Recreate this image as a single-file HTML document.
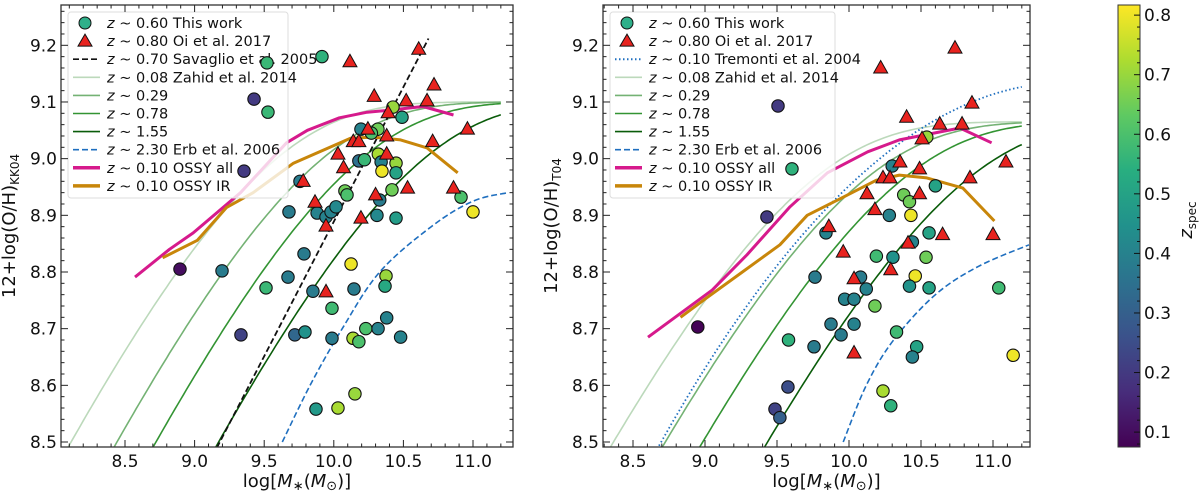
<!DOCTYPE html>
<html><head><meta charset="utf-8"><style>
html,body{margin:0;padding:0;background:#fff;overflow:hidden;width:1200px;height:499px;}
svg{display:block;font-family:"DejaVu Sans","Liberation Sans",sans-serif;}
</style></head><body>
<svg id="fig" width="1200" height="499" viewBox="0 0 1200 499" xmlns="http://www.w3.org/2000/svg">
<defs>
<clipPath id="clipL"><rect x="61" y="5" width="452" height="442"/></clipPath>
<clipPath id="clipR"><rect x="603" y="5" width="427" height="442"/></clipPath>
<linearGradient id="vir" x1="0" y1="1" x2="0" y2="0">
<stop offset="0" stop-color="#440154"/><stop offset="0.125" stop-color="#472d7b"/><stop offset="0.25" stop-color="#3b528b"/><stop offset="0.375" stop-color="#2c728e"/><stop offset="0.5" stop-color="#21918c"/><stop offset="0.625" stop-color="#28ae80"/><stop offset="0.75" stop-color="#5ec962"/><stop offset="0.875" stop-color="#addc30"/><stop offset="1" stop-color="#fde725"/>
</linearGradient>
</defs>
<g id="left"></g>
<g id="right"></g>
<g id="cbar"></g>
</svg>
<script>
// ---- data: left panel (KK04) ----
const leftCircX = [9.52,9.915,9.427,9.527,9.355,10.195,10.317,10.27,10.425,10.49,10.18,10.22,10.32,10.34,10.447,10.346,10.447,9.757,10.08,10.095,10.418,10.914,11.0,9.678,9.88,9.944,9.98,10.016,10.31,10.33,10.447,9.786,8.895,9.197,9.513,9.671,9.85,10.124,10.145,10.375,10.368,9.987,9.333,9.72,9.793,9.987,10.138,10.18,10.23,10.318,10.38,10.48,9.872,10.03,10.152];
const leftCircY = [9.169,9.18,9.105,9.082,8.978,9.052,9.052,9.045,9.091,9.073,8.996,8.998,9.008,8.994,8.992,8.978,8.975,8.96,8.943,8.936,8.945,8.932,8.906,8.906,8.904,8.897,8.906,8.915,8.90,8.927,8.895,8.832,8.805,8.802,8.772,8.791,8.766,8.814,8.77,8.793,8.775,8.736,8.689,8.689,8.694,8.683,8.683,8.677,8.70,8.70,8.719,8.685,8.558,8.56,8.585];
const leftCircZ = [0.57,0.55,0.2,0.57,0.2,0.4,0.65,0.6,0.7,0.5,0.35,0.57,0.72,0.4,0.7,0.8,0.5,0.38,0.65,0.6,0.65,0.6,0.8,0.38,0.4,0.4,0.4,0.42,0.42,0.38,0.48,0.38,0.1,0.38,0.57,0.38,0.38,0.8,0.38,0.7,0.52,0.58,0.22,0.32,0.45,0.38,0.72,0.6,0.6,0.4,0.4,0.4,0.47,0.72,0.7];
const leftTriX = [10.116,10.61,10.29,10.72,10.52,10.67,10.39,10.245,10.96,10.14,10.18,10.38,10.71,10.03,10.38,10.07,9.78,10.30,10.53,10.86,9.865,10.195,9.944,9.944];
const leftTriY = [9.171,9.193,9.11,9.13,9.102,9.102,9.081,9.052,9.052,9.03,9.03,9.04,9.03,9.008,9.008,8.984,8.96,8.936,8.948,8.948,8.923,8.895,8.881,8.765];
const leftSavX = [9.16,10.68]; const leftSavY = [8.49,9.212];
const leftErbX = [9.63,9.83,10.06,10.33,10.7,11.0,11.25]; const leftErbY = [8.5,8.6,8.70,8.80,8.88,8.925,8.94];
const leftAllX = [8.572,8.82,8.99,9.33,9.66,9.81,10.04,10.24,10.38,10.64,10.86];
const leftAllY = [8.791,8.84,8.869,8.94,9.028,9.05,9.072,9.082,9.085,9.092,9.077];
const leftIRX = [8.77,9.02,9.23,9.42,9.71,10.12,10.28,10.48,10.67,10.89];
const leftIRY = [8.825,8.856,8.914,8.94,8.992,9.036,9.038,9.033,9.019,8.975];
const leftZ0 = 9.10; const leftM0 = [9.19,9.52,9.80,10.25];
// ---- data: right panel (T04) ----
const rightCircX = [9.507,9.604,9.43,10.30,10.54,10.60,10.38,10.42,10.43,10.28,9.84,10.556,10.44,10.19,10.305,10.535,9.764,10.08,10.46,10.42,10.556,11.04,10.12,9.97,10.035,10.18,9.875,10.035,9.945,10.33,8.95,9.58,9.757,10.47,10.44,11.14,9.576,10.236,10.29,9.486,9.52];
const rightCircY = [9.093,8.982,8.897,8.987,9.038,8.952,8.936,8.924,8.90,8.90,8.869,8.869,8.853,8.828,8.826,8.826,8.791,8.791,8.793,8.775,8.772,8.772,8.77,8.752,8.752,8.74,8.708,8.708,8.689,8.694,8.703,8.68,8.668,8.668,8.65,8.653,8.597,8.59,8.564,8.558,8.543];
const rightCircZ = [0.2,0.55,0.2,0.4,0.7,0.5,0.65,0.65,0.8,0.4,0.4,0.5,0.4,0.58,0.45,0.65,0.38,0.38,0.8,0.45,0.5,0.58,0.4,0.4,0.4,0.65,0.38,0.4,0.38,0.58,0.08,0.55,0.38,0.5,0.4,0.8,0.25,0.72,0.55,0.22,0.3];
const rightTriX = [10.22,10.736,10.854,10.40,10.63,10.785,10.507,10.354,11.09,10.49,10.236,10.285,10.84,10.125,10.49,10.18,9.86,10.65,11.0,10.41,9.96,10.035,10.29,10.035];
const rightTriY = [9.16,9.195,9.098,9.073,9.061,9.061,9.035,8.994,8.994,8.982,8.966,8.966,8.966,8.938,8.938,8.91,8.88,8.866,8.866,8.851,8.835,8.788,8.804,8.657];
const rightErbX = [9.96,10.12,10.31,10.6,10.9,11.25]; const rightErbY = [8.5,8.6,8.68,8.76,8.81,8.848];
const rightAllX = [8.604,9.05,9.29,9.59,9.85,10.13,10.35,10.77,10.99];
const rightAllY = [8.685,8.768,8.83,8.915,8.975,9.012,9.033,9.054,9.028];
const rightIRX = [8.83,9.01,9.26,9.52,9.71,9.96,10.19,10.35,10.54,10.79,11.01];
const rightIRY = [8.72,8.754,8.80,8.848,8.90,8.932,8.962,8.971,8.966,8.948,8.89];
const rightZ0 = 9.065; const rightM0 = [9.36,9.72,9.98,10.43];
const tremCoef = [-1.492,1.847,-0.08026];
// ---- ticks ----
const xTicks = [8.5,9.0,9.5,10.0,10.5,11.0];
const xTickLabels = ["8.5","9.0","9.5","10.0","10.5","11.0"];
const yTicks = [8.5,8.6,8.7,8.8,8.9,9.0,9.1,9.2];
const yTickLabels = ["8.5","8.6","8.7","8.8","8.9","9.0","9.1","9.2"];
const cbTicks = [0.1,0.2,0.3,0.4,0.5,0.6,0.7,0.8];
const cbTickLabels = ["0.1","0.2","0.3","0.4","0.5","0.6","0.7","0.8"];
const zahidGamma = 0.5;
const zahidColors = ["#bcd9bb","#74b274","#339433","#0a5c0a"];

const NS = "http://www.w3.org/2000/svg";
function mk(parent, tag, attrs){const e=document.createElementNS(NS,tag);for(const k in attrs)e.setAttribute(k,attrs[k]);parent.appendChild(e);return e;}
const VIR=[[68,1,84],[71,45,123],[59,82,139],[44,114,142],[33,145,140],[40,174,128],[94,201,98],[173,220,48],[253,231,37]];
const ZMIN=0.075, ZMAX=0.817;
function viridis(z){let t=(z-ZMIN)/(ZMAX-ZMIN);t=Math.max(0,Math.min(1,t));const f=t*8;const i=Math.min(7,Math.floor(f));const u=f-i;const a=VIR[i],b=VIR[i+1];return "rgb("+a.map((v,k)=>Math.round(v+(b[k]-v)*u)).join(",")+")";}

function panel(g, cfg){
  const X=v=>cfg.px0+(v-8.5)*cfg.kx, Y=v=>442-(v-8.5)*566.7;
  const L=cfg.x0,R=cfg.x1,T=5,B=447;
  const plot=mk(g,"g",{"clip-path":"url(#"+cfg.clip+")"});
  
  
  const pathOf=(xs,ys)=>xs.map((x,i)=>(i?"L":"M")+X(x).toFixed(1)+","+Y(ys[i]).toFixed(1)).join("");
  const smoothOf=(xs,ys)=>{const P=xs.map((x,i)=>[X(x),Y(ys[i])]);let d="M"+P[0][0].toFixed(1)+","+P[0][1].toFixed(1);
    for(let i=0;i<P.length-1;i++){const p0=P[Math.max(0,i-1)],p1=P[i],p2=P[i+1],p3=P[Math.min(P.length-1,i+2)];
      const c1=[p1[0]+(p2[0]-p0[0])/6,p1[1]+(p2[1]-p0[1])/6],c2=[p2[0]-(p3[0]-p1[0])/6,p2[1]-(p3[1]-p1[1])/6];
      d+="C"+c1.map(v=>v.toFixed(1))+" "+c2.map(v=>v.toFixed(1))+" "+p2.map(v=>v.toFixed(1));}
    return d;};
  cfg.M0.forEach((m0,k)=>{
    const xs=[],ys=[];
    for(let x=7.9;x<=11.2001;x+=0.02){const u=Math.pow(10,(x-m0)*zahidGamma);const y=cfg.Z0+Math.log10(1-Math.exp(-u));if(y>8.3){xs.push(x);ys.push(y);}}
    const p=mk(plot,"path",{d:pathOf(xs,ys),fill:"none",stroke:zahidColors[k],"stroke-width":1.6});
    
    
  });
  if(cfg.trem){
    const xs=[],ys=[];
    for(let x=8.6;x<=11.2001;x+=0.02){const y=tremCoef[0]+tremCoef[1]*x+tremCoef[2]*x*x;xs.push(x);ys.push(y);}
    const p=mk(plot,"path",{d:pathOf(xs,ys),fill:"none",stroke:"#1f6fbf","stroke-width":1.8,"stroke-dasharray":"1.5,2.5"});
    
    
  }
  if(cfg.savX){
    const p=mk(plot,"path",{d:pathOf(cfg.savX,cfg.savY),fill:"none",stroke:"#111","stroke-width":1.8,"stroke-dasharray":"6,3"});
    
    
  }
  let p=mk(plot,"path",{d:smoothOf(cfg.erbX,cfg.erbY),fill:"none",stroke:"#1f6fbf","stroke-width":1.6,"stroke-dasharray":"6,3"});
  
  
  p=mk(plot,"path",{d:pathOf(cfg.allX,cfg.allY),fill:"none",stroke:"#d61a8c","stroke-width":3,"stroke-linejoin":"round"});
  
  
  p=mk(plot,"path",{d:pathOf(cfg.irX,cfg.irY),fill:"none",stroke:"#c8860a","stroke-width":3,"stroke-linejoin":"round"});
  
  
  const lg=mk(g,"g",{});
  
  
  const lx=cfg.legX;
  mk(lg,"rect",{x:lx,y:12,width:cfg.legW,height:186,rx:3,fill:"#fff","fill-opacity":0.8,stroke:"#ddd","stroke-width":1});
  cfg.legend.forEach((r,i)=>{
    const y=23+i*18.1, mx=lx+17, l1=lx+5, l2=lx+32;
    if(r.t==="c")mk(lg,"circle",{cx:mx,cy:y,r:6,fill:"#2fb08a",stroke:"#111","stroke-width":1});
    else if(r.t==="tri")mk(lg,"polygon",{points:`${mx},${y-7} ${mx-7},${y+5} ${mx+7},${y+5}`,fill:"#e8231f",stroke:"#111","stroke-width":1});
    else {const a={x1:l1,y1:y,x2:l2,y2:y,stroke:r.c,"stroke-width":r.w||1.6};if(r.d)a["stroke-dasharray"]=r.d;mk(lg,"line",a);}
    const t=mk(lg,"text",{x:lx+39,y:y+5,"font-size":14.5,fill:"#111"});
    t.innerHTML='<tspan font-style="italic">z</tspan> ~ '+r.s;
    
    
  });
  const pts=mk(g,"g",{"clip-path":"url(#"+cfg.clip+")"});
  
  
  cfg.cx.forEach((x,i)=>{
    const c=mk(pts,"circle",{cx:X(x),cy:Y(cfg.cy[i]),r:6.2,fill:viridis(cfg.cz[i]),stroke:"#111","stroke-width":1.1});
    
    
  });
  cfg.tx.forEach((x,i)=>{
    const px=X(x),py=Y(cfg.ty[i]);
    const t=mk(pts,"polygon",{points:`${px},${py-7.5} ${px-7},${py+5} ${px+7},${py+5}`,fill:"#e8231f",stroke:"#111","stroke-width":1});
    
    
  });
  const fr=mk(g,"rect",{x:L,y:T,width:R-L,height:B-T,fill:"none",stroke:"#333","stroke-width":1.3});
  
  
  const tk=mk(g,"g",{stroke:"#222","stroke-width":1});
  
  
  for(let v=7.9;v<=11.35;v+=0.1){const px=X(v);if(px<L+1||px>R-1)continue;const major=Math.abs(v*2-Math.round(v*2))<1e-6;const len=major?7:3.5;mk(tk,"line",{x1:px,y1:B,x2:px,y2:B-len});mk(tk,"line",{x1:px,y1:T,x2:px,y2:T+len});}
  for(let v=8.48;v<=9.28;v+=0.02){const py=Y(v);if(py<T+1||py>B-1)continue;const major=Math.abs(v*10-Math.round(v*10))<1e-6;const len=major?7:3.5;mk(tk,"line",{x1:L,y1:py,x2:L+len,y2:py});mk(tk,"line",{x1:R,y1:py,x2:R-len,y2:py});}
  xTicks.forEach((v,i)=>{const t=mk(g,"text",{x:X(v),y:467,"font-size":17,"text-anchor":"middle",fill:"#111"});t.textContent=xTickLabels[i];
    
    });
  yTicks.forEach((v,i)=>{const t=mk(g,"text",{x:L-4,y:Y(v)+6,"font-size":17,"text-anchor":"end",fill:"#111"});t.textContent=yTickLabels[i];
    
    });
  const xt=mk(g,"text",{x:(L+R)/2+10,y:487,"font-size":18,"text-anchor":"middle",fill:"#111"});
  xt.innerHTML='log[<tspan font-style="italic">M</tspan><tspan font-size="13" dy="3">∗</tspan><tspan dy="-3">(</tspan><tspan font-style="italic">M</tspan><tspan font-size="13" dy="3">⊙</tspan><tspan dy="-3">)]</tspan>';
  
  
  const yt=mk(g,"text",{x:0,y:0,"font-size":18,"text-anchor":"middle",fill:"#111",transform:`translate(${L-46},226) rotate(-90)`});
  yt.innerHTML='12+log(O/H)<tspan font-size="12" dy="4">'+cfg.sub+'</tspan>';
  
  
}
const common=[
 {t:"c",s:"0.60 This work"},{t:"tri",s:"0.80 Oi et al. 2017"}];
const tail=[
 {t:"l",c:zahidColors[0],s:"0.08 Zahid et al. 2014"},{t:"l",c:zahidColors[1],s:"0.29"},{t:"l",c:zahidColors[2],s:"0.78"},{t:"l",c:zahidColors[3],s:"1.55"},
 {t:"l",c:"#1f6fbf",d:"6,3",s:"2.30 Erb et al. 2006"},{t:"l",c:"#d61a8c",w:3.5,s:"0.10 OSSY all"},{t:"l",c:"#c8860a",w:3.5,s:"0.10 OSSY IR"}];
panel(document.getElementById("left"),{px0:125,kx:139.2,x0:61,x1:513,clip:"clipL",Z0:leftZ0,M0:leftM0,savX:leftSavX,savY:leftSavY,erbX:leftErbX,erbY:leftErbY,allX:leftAllX,allY:leftAllY,irX:leftIRX,irY:leftIRY,cx:leftCircX,cy:leftCircY,cz:leftCircZ,tx:leftTriX,ty:leftTriY,sub:"KK04",legX:68,legW:220,
 legend:common.concat([{t:"l",c:"#111",d:"6,3",s:"0.70 Savaglio et al. 2005"}],tail)});
panel(document.getElementById("right"),{px0:633,kx:144,x0:603,x1:1030,clip:"clipR",Z0:rightZ0,M0:rightM0,trem:true,erbX:rightErbX,erbY:rightErbY,allX:rightAllX,allY:rightAllY,irX:rightIRX,irY:rightIRY,cx:rightCircX,cy:rightCircY,cz:rightCircZ,tx:rightTriX,ty:rightTriY,sub:"T04",legX:610,legW:225,
 legend:common.concat([{t:"l",c:"#1f6fbf",d:"1.5,2.5",w:2,s:"0.10 Tremonti et al. 2004"}],tail)});
(function(){
  const g=document.getElementById("cbar");
  const CY=v=>447-(v-ZMIN)/(ZMAX-ZMIN)*442;
  const r=mk(g,"rect",{x:1118,y:5,width:22,height:442,fill:"url(#vir)",stroke:"#333","stroke-width":1});
  
  
  for(let v=0.08;v<=0.8101;v+=0.02){const y=CY(v);const major=Math.abs(v*10-Math.round(v*10))<1e-6;mk(g,"line",{x1:1140,y1:y,x2:1140-(major?6:3),y2:y,stroke:"#111","stroke-width":1});}
  cbTicks.forEach((v,i)=>{const t=mk(g,"text",{x:1144,y:CY(v)+6,"font-size":17,fill:"#111"});t.textContent=cbTickLabels[i];
    
    });
  const t=mk(g,"text",{x:0,y:0,"font-size":18,"text-anchor":"middle",fill:"#111",transform:"translate(1192,220) rotate(-90)"});
  t.innerHTML='<tspan font-style="italic">z</tspan><tspan font-size="12" dy="4">spec</tspan>';
  
  
})();
</script>
</body></html>
